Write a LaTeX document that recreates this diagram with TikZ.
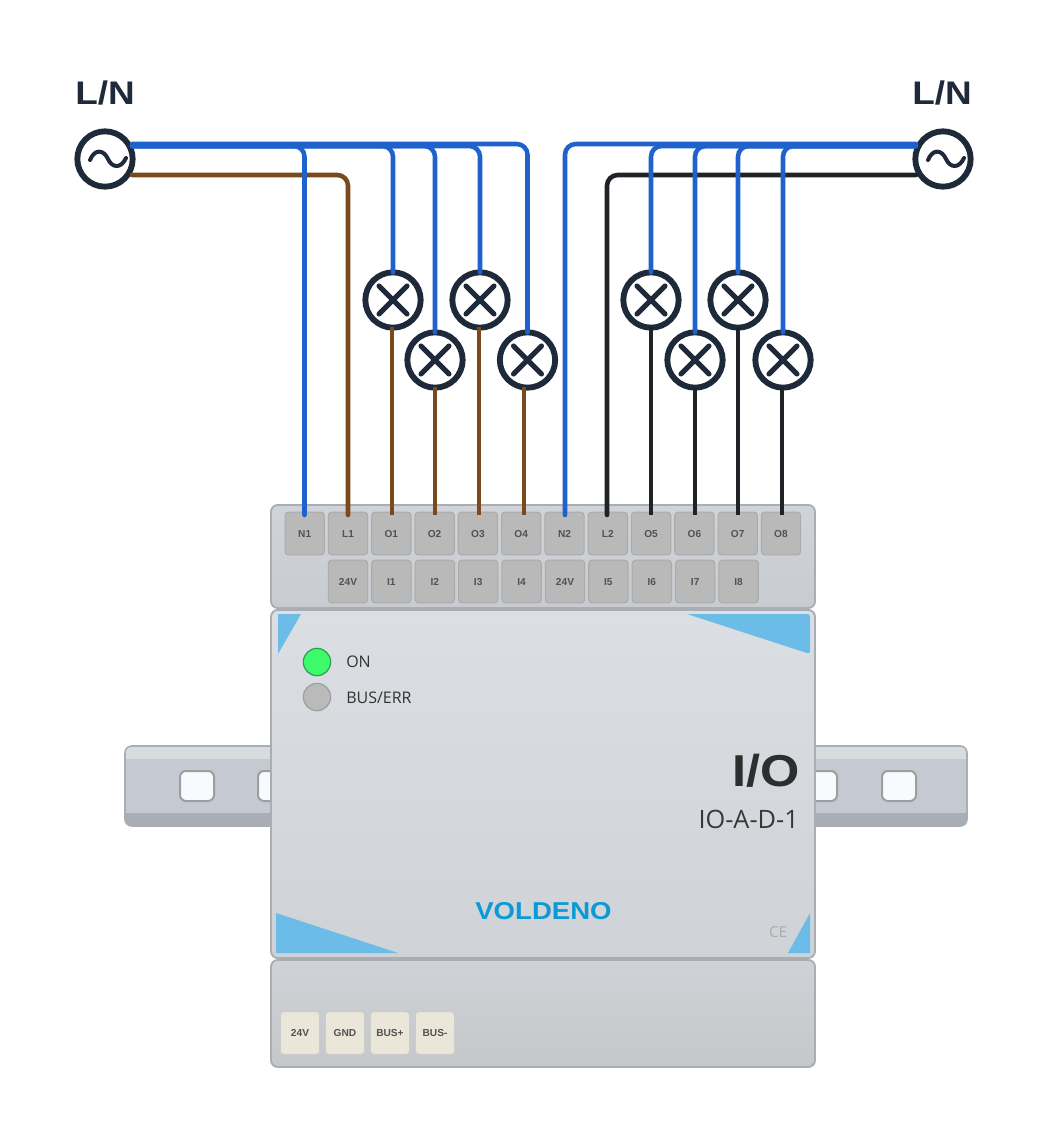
\documentclass[tikz,border=0pt]{standalone}
\usepackage{fontspec}
\setmainfont{Liberation Sans}
\newfontfamily\widef[FakeStretch=1.13]{Liberation Sans}
\newfontfamily\exof{Open Sans}
\usetikzlibrary{calc}
\definecolor{wblue}{HTML}{1F62CC}
\definecolor{wbrown}{HTML}{7A4A1C}
\definecolor{wblack}{HTML}{1F2327}
\definecolor{navy}{HTML}{1E2A3A}
\definecolor{sky}{HTML}{6BBCE6}
\definecolor{edge}{HTML}{A9AEB4}
\definecolor{beige}{HTML}{EAE6DA}
\definecolor{railtop}{HTML}{D8DBE0}
\definecolor{railmid}{HTML}{C5C9D2}
\definecolor{railbot}{HTML}{A8ADB6}
\definecolor{holefill}{HTML}{F8FBFD}
\tikzset{
 x=0.75pt,y=-0.75pt,
 bluew/.style={draw=wblue,line width=3.4pt,rounded corners=8pt,line cap=round},
 brownw/.style={draw=wbrown,line width=3.4pt,rounded corners=8pt,line cap=round},
 blackw/.style={draw=wblack,line width=3.4pt,rounded corners=8pt,line cap=round},
 ring/.style={circle,draw=navy,fill=white,line width=4.4pt,minimum size=41.5pt,inner sep=0pt,outer sep=0pt},
 term/.style={draw=#1,rounded corners=2.5pt,line width=0.8pt,minimum width=29.5pt,minimum height=32pt,inner sep=0pt,text height=5.4pt,text depth=0pt,font=\fontsize{7.6}{9}\selectfont\bfseries,text=black!68},
 term/.default={black!33},
 gterm/.style={term,fill=black!27.5},
 bterm/.style={term=black!20,fill=beige},
 hole/.style={draw=black!38,line width=1.5pt,fill=holefill,rounded corners=4.5pt},
 led/.style={circle,minimum size=20.5pt,inner sep=0pt,line width=0.9pt},
 lab/.style={anchor=base west,inner sep=0pt,font=\exof\fontsize{12}{14}\selectfont,text=black!80},
 block/.style={draw=edge,line width=1.4pt,rounded corners=5pt},
}
\begin{document}
\begin{tikzpicture}
\useasboundingbox (0,0) rectangle (1050,1140);
% DIN rails
\begin{scope}
 \clip[rounded corners=5pt] (125,746) rectangle (967,826);
 \fill[railtop] (125,746) rectangle (967,759);
 \fill[railmid] (125,759) rectangle (967,813);
 \fill[railbot] (125,813) rectangle (967,826);
\end{scope}
\draw[edge,line width=1.2pt,rounded corners=5pt] (125,746) rectangle (967,826);
\draw[hole] (180,771) rectangle (214,801);
\draw[hole] (258,771) rectangle (292,801);
\draw[hole] (803,771) rectangle (837,801);
\draw[hole] (882,771) rectangle (916,801);
% blocks
\draw[block,top color={rgb,255:red,208;green,212;blue,216},bottom color={rgb,255:red,200;green,204;blue,208}] (271,505) rectangle (815,608);
\draw[block,top color={rgb,255:red,219;green,223;blue,227},bottom color={rgb,255:red,207;green,210;blue,214}] (271,610) rectangle (815,958);
\draw[block,top color={rgb,255:red,207;green,210;blue,214},bottom color={rgb,255:red,197;green,199;blue,202}] (271,960) rectangle (815,1067);
% accents
\fill[sky] (278,614) -- (301,614) -- (278,654) -- cycle;
\fill[sky,rounded corners=2pt] (687,614) -- (810,614) -- (810,654) -- cycle;
\fill[sky] (276,913) -- (398,953) -- (276,953) -- cycle;
\fill[sky] (810,913) -- (810,953) -- (788,953) -- cycle;
% terminals, top row
\foreach \n/\t [count=\i from 0] in {N1/N1,L1/L1,O1/O1,O2/O2,O3/O3,O4/O4,N2/N2,L2/L2,O5/O5,O6/O6,O7/O7,O8/O8}
  \node[gterm] (\n) at ({304.7+\i*43.3},533.5) {\t};
% terminals, lower row
\foreach \n/\t [count=\i from 0] in {Ia/24V,Ib/I1,Ic/I2,Id/I3,Ie/I4,If/24V,Ig/I5,Ih/I6,Ii/I7,Ij/I8}
  \node[gterm] (\n) at ({348+\i*43.4},581.5) {\t};
% bus terminals
\foreach \n/\t [count=\i from 0] in {Ba/24V,Bb/GND,Bc/BUS+,Bd/BUS-}
  \node[bterm] (\n) at ({300+\i*45},1033) {\t};
% LEDs
\node[led,draw={rgb,255:red,46;green,158;blue,78},fill={rgb,255:red,61;green,251;blue,107}] (ledon) at (317,662) {};
\node[led,draw=black!38,fill=black!27] (ledbus) at (317,697) {};
\node[lab] (ton) at (346,667.5) {ON};
\node[lab] (tbus) at (346,703) {BUS/ERR};
% texts
\node[anchor=base east,inner sep=0pt,font=\widef\bfseries\fontsize{33.5}{36}\selectfont,text=black!82] (tio) at (800,786) {I/O};
\node[anchor=base east,inner sep=0pt,font=\exof\fontsize{19}{21}\selectfont,text=black!78] (tmod) at (799,828) {IO-A-D-1};
\node[anchor=base,inner sep=0pt,font=\widef\bfseries\fontsize{18.3}{20}\selectfont,text={rgb,255:red,10;green,155;blue,214}] (tbrand) at (543.5,919) {VOLDENO};
\node[anchor=base,inner sep=0pt,font=\exof\fontsize{11.3}{13}\selectfont,text=black!33] (tce) at (778,937) {CE};
\node[anchor=base,inner sep=0pt,font=\widef\bfseries\fontsize{24.5}{26}\selectfont,text=navy] (tla) at (105,104) {L/N};
\node[anchor=base,inner sep=0pt,font=\widef\bfseries\fontsize{24.5}{26}\selectfont,text=navy] (tlb) at (942,104) {L/N};
% sources
\node[ring] (sL) at (105,159) {};
\node[ring] (sR) at (943,159) {};
\foreach \s in {sL,sR}
  \draw[navy,line width=3pt,line cap=round] ($(\s.center)+(-15,1)$) .. controls ($(\s.center)+(-10,-11)$) and ($(\s.center)+(-1,-9)$) .. ($(\s.center)+(3,0)$) .. controls ($(\s.center)+(7,9)$) and ($(\s.center)+(16,10)$) .. ($(\s.center)+(21,-1)$);
% lamps
\foreach \n/\x/\y in {La/393/300,Lb/435/360,Lc/480/300,Ld/527.5/360,Le/651/300,Lf/695/360,Lg/738/300,Lh/783/360}{
  \node[ring] (\n) at (\x,\y) {};
  \draw[navy,line width=3.8pt,line cap=round] ($(\n.center)+(-14,-14)$) -- ($(\n.center)+(14,14)$) ($(\n.center)+(14,-14)$) -- ($(\n.center)+(-14,14)$);
}
% wire anchors
\coordinate (aLn) at (132,144);
\coordinate (aLb) at (132,146);
\coordinate (aLl) at (132,175);
\coordinate (aRn) at (916,144);
\coordinate (aRb) at (916,146);
\coordinate (aRl) at (916,175);
\foreach \n/\x in {N1/304.5,L1/348,O1/392,O2/435,O3/479,O4/524,N2/565,L2/607,O5/651,O6/695,O7/738,O8/782}
  \coordinate (p\n) at (\x,515);
% hot / load wires
\draw[brownw] (aLl) -| (pL1);
\draw[blackw] (aRl) -| (pL2);
\draw[brownw,line cap=butt] (pO1 |- La.south) ++(0,-1) -- (pO1);
\draw[brownw,line cap=butt] (pO2 |- Lb.south) ++(0,-1) -- (pO2);
\draw[brownw,line cap=butt] (pO3 |- Lc.south) ++(0,-1) -- (pO3);
\draw[brownw,line cap=butt] (pO4 |- Ld.south) ++(0,-1) -- (pO4);
\draw[blackw,line cap=butt] (pO5 |- Le.south) ++(0,-1) -- (pO5);
\draw[blackw,line cap=butt] (pO6 |- Lf.south) ++(0,-1) -- (pO6);
\draw[blackw,line cap=butt] (pO7 |- Lg.south) ++(0,-1) -- (pO7);
\draw[blackw,line cap=butt] (pO8 |- Lh.south) ++(0,-1) -- (pO8);
% neutral wires
\draw[bluew] (aLb) -| (pN1);
\draw[bluew] (aLb) -| (La.north);
\draw[bluew] (aLb) -| (Lb.north);
\draw[bluew] (aLb) -| (Lc.north);
\draw[bluew] (aLn) -| (Ld.north);
\draw[bluew] (aRn) -| (pN2);
\draw[bluew] (aRb) -| (Le.north);
\draw[bluew] (aRb) -| (Lf.north);
\draw[bluew] (aRb) -| (Lg.north);
\draw[bluew] (aRb) -| (Lh.north);
\end{tikzpicture}
\end{document}
